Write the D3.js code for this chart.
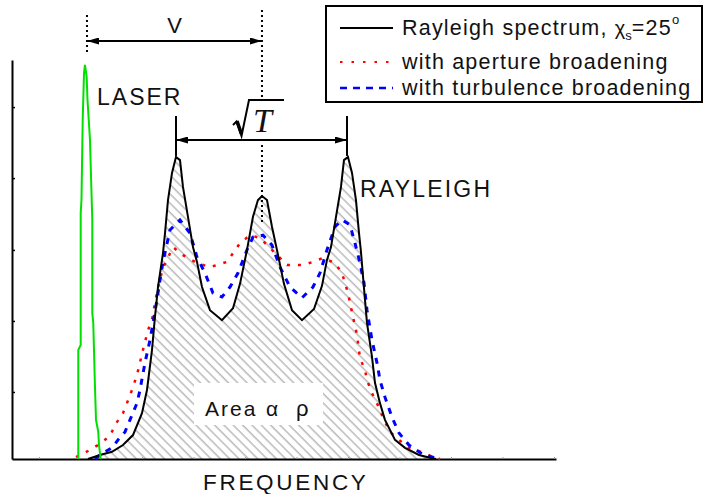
<!DOCTYPE html>
<html>
<head>
<meta charset="utf-8">
<script src="https://cdn.jsdelivr.net/npm/d3@7"></script>
<style>
body { margin: 0; background: #fff; }
svg text { font-family: "Liberation Sans", Arial, sans-serif; fill: #111; }
</style>
</head>
<body>
<div id="chart"></div>
<script>
'use strict';

// frequency in arbitrary units (one axis tick every 10), intensity in % of frame height
const xTicks = [0, 10, 20, 30, 40, 50, 60, 70, 80, 90, 100];
const yTicks = [16.8, 34.6, 52.4, 70.4, 88.2];

const laserFreq = [7.63, 7.63, 8.10, 8.10, 8.25, 8.49, 8.74, 8.93, 9.26, 9.42, 9.90, 10.35, 10.35, 10.54, 10.87, 11.07, 11.51, 11.65, 11.98];
const laserInt = [0, 27.3, 28.6, 61.7, 64.9, 85.0, 96.7, 98.8, 95.7, 90.0, 80.0, 59.9, 36.6, 34.1, 18.1, 9.8, 6.8, 3.5, 0];

const rayleighFreq = [9.51, 11.84, 14.17, 16.31, 18.25, 20.0, 20.97, 21.94, 22.52, 23.11, 24.08, 24.47, 25.05, 25.83, 26.60, 27.38, 27.96, 28.93, 29.90, 30.68,
    31.65, 33.20, 35.53, 37.67, 39.03, 40.39, 41.55, 42.52, 43.30, 44.27, 45.24, 46.21, 47.57, 49.13, 51.07, 53.40, 54.95, 55.92, 56.70, 57.67,
    58.64, 59.22, 60.0, 60.78, 61.55, 62.14, 62.52, 63.30, 63.69, 64.66, 65.24, 66.21, 67.18, 69.13, 71.07, 73.79, 75.92, 77.09];
const rayleighInt = [0, 1.0, 1.8, 3.5, 6.0, 11.5, 17.3, 27.3, 35.6, 43.1, 51.6, 56.6, 64.9, 71.7, 75.7, 74.9, 68.2, 60.7, 53.1, 49.4,
    43.1, 37.3, 34.8, 37.8, 43.9, 52.4, 60.7, 64.9, 65.9, 64.9, 58.2, 52.4, 43.9, 37.3, 34.8, 37.6, 43.4, 49.9, 53.1, 60.7,
    68.2, 74.9, 75.7, 71.7, 64.9, 56.6, 51.9, 39.9, 34.1, 25.6, 19.1, 14.0, 9.8, 4.8, 2.8, 1.0, 0.3, 0];

const apertureFreq = [7.18, 9.51, 11.84, 13.79, 14.76, 16.31, 17.09, 18.06, 19.03, 20.19, 21.17, 21.94, 22.52, 23.11, 24.08, 26.02, 27.96, 30.68, 33.20, 36.50,
    39.03, 40.97, 42.91, 45.24, 48.16, 51.26, 53.20, 55.15, 57.48, 58.83, 60.0, 60.97, 61.75, 62.33, 63.30, 63.69, 64.66, 65.63, 66.99, 68.16,
    69.90, 71.84, 75.34, 76.31, 77.86];
const apertureInt = [0.5, 2.0, 3.8, 5.8, 8.5, 11.5, 14.0, 17.3, 21.1, 27.3, 32.3, 34.8, 39.1, 43.1, 47.9, 53.1, 51.1, 49.1, 48.1, 49.4,
    54.1, 56.1, 55.4, 52.4, 48.6, 48.6, 49.4, 50.4, 49.1, 46.6, 41.6, 35.6, 31.1, 25.3, 22.3, 19.8, 16.5, 14.0, 9.8, 6.8,
    4.8, 2.8, 1.3, 0.5, 0];

const turbulenceFreq = [10.87, 11.84, 14.37, 15.34, 16.70, 17.67, 19.03, 19.61, 20.58, 21.55, 22.14, 22.91, 23.50, 24.08, 25.44, 27.38, 29.32, 30.68, 32.23, 33.79,
    35.53, 37.09, 38.64, 40.39, 41.55, 43.50, 45.24, 46.80, 48.74, 51.07, 53.20, 54.56, 55.92, 57.48, 58.83, 60.39, 61.36, 62.33, 63.11, 63.69,
    64.66, 65.63, 66.21, 67.18, 68.54, 69.90, 71.84, 74.37, 76.31, 77.48];
const turbulenceInt = [0, 1.0, 3.0, 4.8, 6.8, 9.8, 14.0, 17.3, 24.1, 29.8, 34.1, 39.9, 44.9, 49.4, 57.4, 59.9, 56.6, 50.6, 46.6, 41.6,
    40.6, 43.1, 46.6, 52.4, 55.6, 56.1, 53.6, 48.1, 43.1, 40.4, 43.1, 46.6, 52.4, 58.2, 59.9, 58.7, 54.1, 49.1, 44.1, 37.3,
    29.8, 24.1, 19.8, 15.5, 10.5, 6.5, 3.5, 1.3, 0.5, 0];

const legendLabels = ["Rayleigh spectrum, ", "with aperture broadening", "with turbulence broadening"];

const width = 704, height = 494;

const svg = d3.select("#chart").append("svg")
    .attr("width", width)
    .attr("height", height);

const x = d3.scaleLinear().domain([-5.24, 100.39]).range([12, 556]);
const y = d3.scaleLinear().domain([0, 100]).range([459, 60]);

const zip = (fs, vs) => fs.map((f, i) => [f, vs[i]]);
const laser = zip(laserFreq, laserInt);
const rayleigh = zip(rayleighFreq, rayleighInt);
const aperture = zip(apertureFreq, apertureInt);
const turbulence = zip(turbulenceFreq, turbulenceInt);

let defs = svg.append("defs");

defs.append("pattern")
    .attr("id", "hatch")
    .attr("patternUnits", "userSpaceOnUse")
    .attr("width", 6.6)
    .attr("height", 10)
    .attr("patternTransform", "rotate(-45)")
    .append("line")
    .attr("x1", 3).attr("y1", 0)
    .attr("x2", 3).attr("y2", 10)
    .attr("stroke", "#b5b5b5")
    .attr("stroke-width", 1.4);

defs.append("marker")
    .attr("id", "arrow")
    .attr("viewBox", "0 0 12 7")
    .attr("refX", 12)
    .attr("refY", 3.5)
    .attr("markerWidth", 12)
    .attr("markerHeight", 7)
    .attr("markerUnits", "userSpaceOnUse")
    .attr("orient", "auto-start-reverse")
    .append("path")
    .attr("d", "M0,0 L12,3.5 L0,7 Z")
    .attr("fill", "#000");

let line = d3.line().x(d => x(d[0])).y(d => y(d[1]));
let area = d3.area().x(d => x(d[0])).y0(y(0)).y1(d => y(d[1]));

// hatched area under the Rayleigh spectrum
svg.append("path")
    .datum(rayleigh)
    .attr("d", area)
    .attr("fill", "url(#hatch)");

// white box behind the area label
svg.append("rect")
    .attr("x", 194).attr("y", 383)
    .attr("width", 129).attr("height", 42)
    .attr("fill", "#fff");

svg.append("text")
    .attr("x", 205).attr("y", 416)
    .attr("font-size", 21)
    .attr("letter-spacing", 2)
    .text("Area");
svg.append("text")
    .attr("x", 266).attr("y", 416)
    .attr("font-size", 21)
    .text("α");
svg.append("text")
    .attr("x", 296).attr("y", 416)
    .attr("font-size", 22)
    .text("ρ");

// axes
svg.append("g")
    .attr("transform", "translate(12,0)")
    .call(d3.axisLeft(y).tickValues(yTicks).tickSizeInner(-3).tickSizeOuter(0).tickFormat(""))
    .call(g => g.select(".domain").attr("stroke-width", 2))
    .call(g => g.selectAll(".tick line").attr("stroke-width", 1.5));

svg.append("g")
    .attr("transform", "translate(0,459)")
    .call(d3.axisBottom(x).tickValues(xTicks).tickSizeInner(-2).tickSizeOuter(0).tickFormat(""))
    .call(g => g.select(".domain").attr("stroke-width", 2))
    .call(g => g.selectAll(".tick line").attr("stroke", "#999").attr("stroke-width", 1));

// spectra
svg.append("path")
    .datum(aperture)
    .attr("d", line)
    .attr("fill", "none")
    .attr("stroke", "#ff0000")
    .attr("stroke-width", 2.5)
    .attr("stroke-dasharray", "3,8");

svg.append("path")
    .datum(turbulence)
    .attr("d", line)
    .attr("fill", "none")
    .attr("stroke", "#0000ff")
    .attr("stroke-width", 3)
    .attr("stroke-dasharray", "6,7");

svg.append("path")
    .datum(rayleigh)
    .attr("d", line)
    .attr("fill", "none")
    .attr("stroke", "#000")
    .attr("stroke-width", 2);

svg.append("path")
    .datum(laser)
    .attr("d", line)
    .attr("fill", "none")
    .attr("stroke", "#00e000")
    .attr("stroke-width", 2);

// peak positions, taken from the data
const laserPeak = laser[d3.maxIndex(laser, d => d[1])][0];
const centre = rayleigh.filter(d => d[0] > 38 && d[0] < 48);
const centrePeak = centre[d3.maxIndex(centre, d => d[1])];
const leftSide = rayleigh.filter(d => d[0] < centrePeak[0]);
const rightSide = rayleigh.filter(d => d[0] > centrePeak[0]);
const leftPeak = leftSide[d3.maxIndex(leftSide, d => d[1])];
const rightPeak = rightSide[d3.maxIndex(rightSide, d => d[1])];

function dotted(xp, y1, y2) {
    svg.append("line")
        .attr("x1", xp).attr("x2", xp)
        .attr("y1", y1).attr("y2", y2)
        .attr("stroke", "#000")
        .attr("stroke-width", 2)
        .attr("stroke-dasharray", "2,3");
}

let xl = x(laserPeak) + 2;
let xc = x(centrePeak[0]);
dotted(xl, 15, 54);
dotted(xc, 10, 97);
dotted(xc, 145, 222);

// V arrow
svg.append("line")
    .attr("x1", xl).attr("x2", xc)
    .attr("y1", 41).attr("y2", 41)
    .attr("stroke", "#000")
    .attr("stroke-width", 2)
    .attr("marker-start", "url(#arrow)")
    .attr("marker-end", "url(#arrow)");

svg.append("text")
    .attr("x", (xl + xc) / 2).attr("y", 33)
    .attr("font-size", 22)
    .attr("text-anchor", "middle")
    .text("V");

// sqrt(T) arrow between the side peaks
let xa = x(leftPeak[0]), xb = x(rightPeak[0]) - 1;
[xa, xb].forEach(xp => {
    svg.append("line")
        .attr("x1", xp).attr("x2", xp)
        .attr("y1", 116).attr("y2", y(leftPeak[1]) - 1)
        .attr("stroke", "#000")
        .attr("stroke-width", 2);
});
svg.append("line")
    .attr("x1", xa).attr("x2", xb)
    .attr("y1", 140).attr("y2", 140)
    .attr("stroke", "#000")
    .attr("stroke-width", 2)
    .attr("marker-start", "url(#arrow)")
    .attr("marker-end", "url(#arrow)");

svg.append("path")
    .attr("d", "M233,125 L236.5,121.5 L241.5,136 L249,100 L284,100")
    .attr("fill", "none")
    .attr("stroke", "#000")
    .attr("stroke-width", 2)
    .attr("stroke-linejoin", "miter");
svg.append("path")
    .attr("d", "M237,121 L241.5,134")
    .attr("stroke", "#000")
    .attr("stroke-width", 3.5);
svg.append("text")
    .attr("x", 253).attr("y", 132)
    .style("font-family", "'Liberation Serif', 'Times New Roman', serif")
    .attr("font-style", "italic")
    .attr("font-size", 34)
    .text("T");

// labels
svg.append("text")
    .attr("x", 97).attr("y", 105)
    .attr("font-size", 23)
    .attr("letter-spacing", 2)
    .text("LASER");

svg.append("text")
    .attr("x", 360).attr("y", 197)
    .attr("font-size", 23)
    .attr("letter-spacing", 2.2)
    .text("RAYLEIGH");

svg.append("text")
    .attr("x", 203).attr("y", 490)
    .attr("font-size", 22.5)
    .attr("letter-spacing", 2.7)
    .text("FREQUENCY");

// legend
let legend = svg.append("g");
legend.append("rect")
    .attr("x", 326).attr("y", 6)
    .attr("width", 376).attr("height", 96)
    .attr("fill", "#fff")
    .attr("stroke", "#000")
    .attr("stroke-width", 2);

const legendStyles = [
    { color: "#000", dash: null, w: 2, y: 28 },
    { color: "#ff0000", dash: "2.5,9", w: 2, y: 62 },
    { color: "#0000ff", dash: "7,6", w: 2.5, y: 88 }
];

legendStyles.forEach((s, i) => {
    legend.append("line")
        .attr("x1", 340).attr("x2", 393)
        .attr("y1", s.y).attr("y2", s.y)
        .attr("stroke", s.color)
        .attr("stroke-width", s.w)
        .attr("stroke-dasharray", s.dash);
    let t = legend.append("text")
        .attr("x", 402).attr("y", s.y + 7)
        .attr("font-size", 21.5)
        .attr("letter-spacing", 1.2)
        .text(legendLabels[i]);
    if (i === 0) {
        t.append("tspan").attr("font-size", 20).attr("letter-spacing", 0).text("χ");
        t.append("tspan").attr("font-size", 13).attr("dy", 5).attr("letter-spacing", 0).text("s");
        t.append("tspan").attr("font-size", 21.5).attr("dy", -5).text("=25");
        t.append("tspan").attr("font-size", 13).attr("dy", -11).attr("letter-spacing", 0).text("o");
    }
});
</script>
</body>
</html>
